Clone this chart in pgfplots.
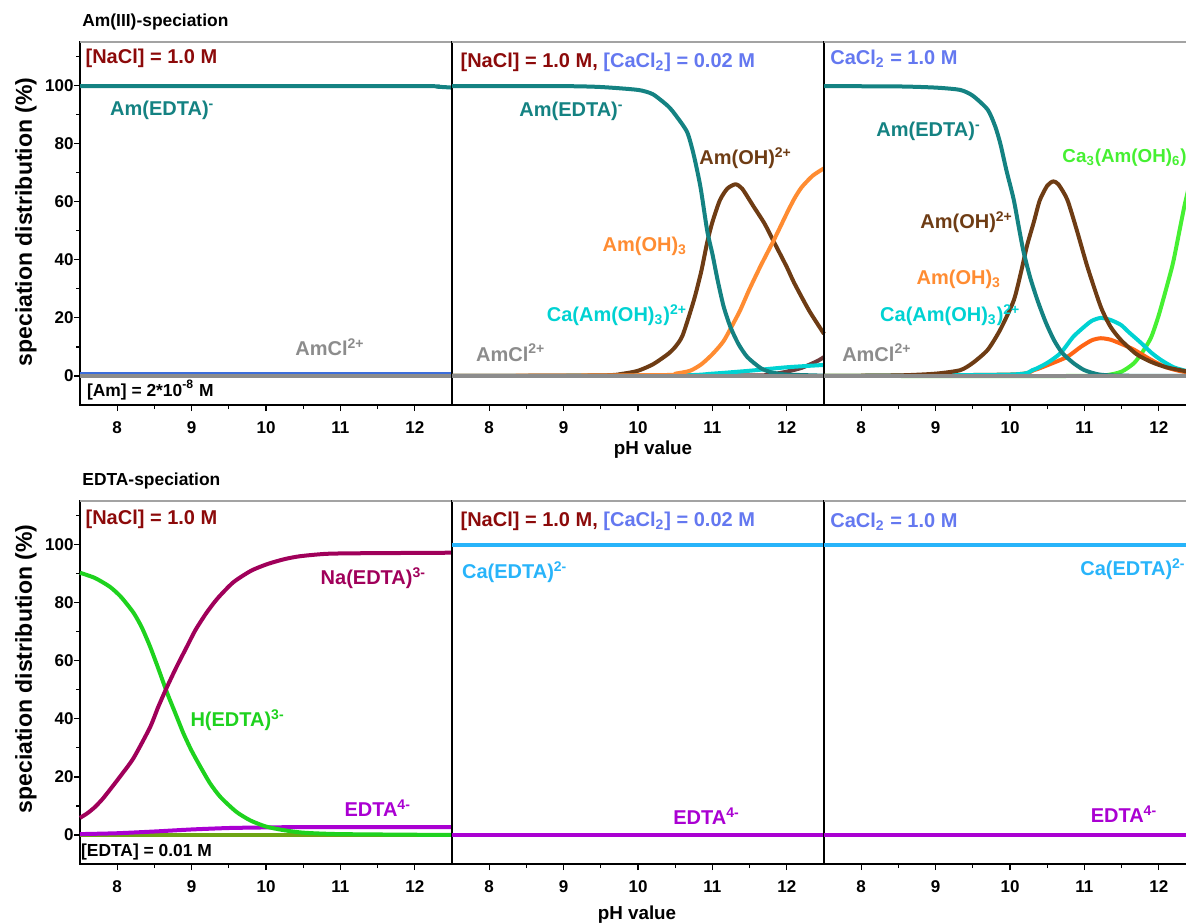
\documentclass[border=0pt]{standalone}
\usepackage{fontspec}
\setmainfont{Liberation Sans}
\usepackage{pgfplots}
\pgfplotsset{compat=1.18}
\definecolor{cteal}{RGB}{20,130,130}
\definecolor{cbrown}{RGB}{110,60,20}
\definecolor{corange}{RGB}{255,140,50}
\definecolor{cored}{RGB}{255,100,20}
\definecolor{ccyan}{RGB}{0,210,210}
\definecolor{cgreen}{RGB}{70,240,50}
\definecolor{cgray}{RGB}{140,140,140}
\definecolor{cdred}{RGB}{140,10,10}
\definecolor{cblue}{RGB}{100,120,240}
\definecolor{cmaroon}{RGB}{160,0,90}
\definecolor{chgreen}{RGB}{30,210,30}
\definecolor{cpurple}{RGB}{170,0,210}
\definecolor{clblue}{RGB}{40,180,250}
\definecolor{colive}{RGB}{110,165,20}
\definecolor{cbline}{RGB}{60,110,220}
\definecolor{cdmb}{RGB}{110,60,60}
\newcommand\anno{\fontsize{10}{12}\selectfont\bfseries}
\newcommand\smallb{\fontsize{8.7}{10}\selectfont\bfseries}
\pgfplotsset{
 panel/.style={
  scale only axis, width=186pt, height=181.5pt,
  xmin=7.5,xmax=12.5,ymin=-10,ymax=115,
  xtick={8,9,10,11,12}, minor xtick={8.5,9.5,10.5,11.5},
  ytick={0,20,...,100}, minor ytick={10,30,50,70,90,110},
  tick align=outside, xtick pos=bottom, ytick pos=left,
  major tick length=3pt, minor tick length=2pt,
  every tick/.style={black, line width=0.6pt},
  axis line style={black, line width=0.8pt},
  ticklabel style={font=\fontsize{8.5}{10}\selectfont\bfseries},
  xticklabel style={yshift=-5pt},
  /pgf/number format/assume math mode=true,
  every axis plot/.append style={line width=2pt, no marks, smooth, tension=0.4, line join=round},
  clip=false,
  nodes={inner sep=0pt},
 },
 noy/.style={ytick=\empty, minor ytick=\empty},
}
\newcommand\topgray{\draw[cgray!80, line width=0.9pt] (rel axis cs:0,1) -- (rel axis cs:1,1);}
\begin{document}
\begin{tikzpicture}
% ---------------- top row ----------------
\begin{axis}[panel, at={(40pt,-21pt)}, anchor=north west]
\addplot[cgray, line width=2.4pt] coordinates {(7.5,0) (12.5,0)};
\addplot[cbline, line width=1pt] coordinates {(7.5,1.0) (12.5,1.0)};
\addplot[cteal] coordinates {(7.5,99.8) (12,99.8) (12.3,99.6) (12.5,99.3)};
\node[anchor=west, text=cdred, font=\anno] at (axis cs:7.57,109.3) {[NaCl] = 1.0 M};
\node[anchor=west, text=cteal, font=\anno] at (axis cs:7.9,91.5) {Am(EDTA)\textsuperscript{-}};
\node[anchor=west, text=cgray, font=\anno] at (axis cs:10.39,10.0) {AmCl\textsuperscript{2+}};
\node[anchor=west, text=black, font=\smallb] at (axis cs:7.59,-4.8) {[Am] = 2*10\textsuperscript{-8} M};
\topgray
\end{axis}
\begin{axis}[panel, noy, at={(226pt,-21pt)}, anchor=north west]
\addplot[cdmb] coordinates {(7.5,0) (11.5,0.2) (11.8,0.6) (12.0,1.5) (12.2,2.8) (12.4,5) (12.5,6.5)};
\addplot[ccyan] coordinates {(7.5,0) (10.5,0.2) (11,0.8) (11.5,1.8) (12,3) (12.5,3.8)};
\addplot[cbrown] coordinates {(7.5,0) (9.5,0.2) (9.8,0.8) (10.0,1.8) (10.2,4) (10.4,7.5) (10.5,10) (10.6,14) (10.75,26) (10.85,36) (10.93,46) (11.0,53) (11.1,60.5) (11.2,64.5) (11.31,66) (11.4,64.5) (11.55,58.5) (11.7,52.5) (11.83,46) (12.0,37.5) (12.1,32) (12.3,22.5) (12.5,14.5)};
\addplot[corange] coordinates {(7.5,0) (10.3,0.3) (10.5,0.8) (10.7,1.8) (10.85,4) (11.0,7.5) (11.15,12) (11.3,19) (11.38,23) (11.5,30) (11.65,38) (11.83,47) (12.0,56) (12.1,61) (12.2,65) (12.35,69) (12.5,71.5)};
\addplot[cteal] coordinates {(7.5,99.8) (9.0,99.8) (9.5,99.5) (10.0,98.5) (10.2,97) (10.4,93) (10.5,90) (10.66,84) (10.75,76) (10.84,65) (10.93,50) (11.0,42) (11.07,33) (11.15,24) (11.24,17) (11.35,11) (11.47,6.5) (11.65,2.7) (11.8,1.2) (12,0.5) (12.5,0.1)};
\addplot[cgray, line width=2.4pt] coordinates {(7.5,0) (12.5,0)};
\node[anchor=west, font=\anno] at (axis cs:7.61,108) {\textcolor{cdred}{[NaCl] = 1.0 M,} \textcolor{cblue}{[CaCl\textsubscript{2}] = 0.02 M}};
\node[anchor=west, text=cteal, font=\anno] at (axis cs:8.4,91.0) {Am(EDTA)\textsuperscript{-}};
\node[anchor=west, text=cbrown, font=\anno] at (axis cs:10.82,75.0) {Am(OH)\textsuperscript{2+}};
\node[anchor=west, text=corange, font=\anno] at (axis cs:9.52,44.5) {Am(OH)\textsubscript{3}};
\node[anchor=west, text=ccyan, font=\anno] at (axis cs:8.77,21.0) {Ca(Am(OH)\textsubscript{3})\textsuperscript{2+}};
\node[anchor=west, text=cgray, font=\anno] at (axis cs:7.82,8.0) {AmCl\textsuperscript{2+}};
\topgray
\end{axis}
\begin{axis}[panel, noy, at={(412pt,-21pt)}, anchor=north west]
\addplot[cgreen] coordinates {(7.5,0) (11.0,0) (11.3,0.3) (11.5,1.5) (11.67,4.5) (11.8,9) (11.9,13.5) (12.0,21) (12.12,32) (12.2,40) (12.34,58) (12.45,70) (12.5,76)};
\addplot[cored] coordinates {(7.5,0) (10.0,0.5) (10.32,2) (10.55,4.2) (10.77,6.6) (10.95,10) (11.1,12.3) (11.22,13) (11.35,12.5) (11.5,11) (11.67,9) (11.9,5.5) (12.1,3) (12.3,1.6) (12.5,1)};
\addplot[ccyan] coordinates {(7.5,0) (10.0,0.5) (10.3,2) (10.5,4.5) (10.68,7.9) (10.85,13.5) (11.0,17) (11.1,19) (11.22,20) (11.35,19.3) (11.49,17.6) (11.6,15) (11.76,11.4) (11.9,8) (12.03,5.5) (12.2,3) (12.4,1.5) (12.5,1)};
\addplot[cbrown] coordinates {(7.5,0) (8.5,0.2) (9.0,0.8) (9.33,2) (9.5,4.5) (9.7,9) (9.87,16) (10.05,26) (10.15,36) (10.23,45) (10.32,53) (10.4,60.5) (10.5,65.5) (10.58,67) (10.65,66) (10.77,60.7) (10.9,50) (11.04,37.6) (11.22,23.8) (11.35,17) (11.49,12.4) (11.7,7.5) (11.9,4.8) (12.1,3) (12.33,1.8) (12.5,1.2)};
\addplot[cteal] coordinates {(7.5,99.8) (8.5,99.7) (9,99.3) (9.33,98.5) (9.5,96.5) (9.7,91.7) (9.8,86) (9.87,80) (9.95,71) (10.05,60.7) (10.12,51) (10.18,43) (10.27,34) (10.37,26) (10.48,18.5) (10.59,12.4) (10.7,8) (10.85,4.5) (11,2) (11.2,0.5) (11.5,0.1) (12.5,0)};
\addplot[cgray, line width=2.4pt] coordinates {(7.5,0) (12.5,0)};
\node[anchor=west, text=cblue, font=\anno] at (axis cs:7.58,109.3) {CaCl\textsubscript{2} = 1.0 M};
\node[anchor=west, text=cteal, font=\anno] at (axis cs:8.2,84.2) {Am(EDTA)\textsuperscript{-}};
\node[anchor=west, text=cgreen, font=\fontsize{9.4}{11}\selectfont\bfseries] at (axis cs:10.7,75.6) {Ca\textsubscript{3}(Am(OH)\textsubscript{6})\textsuperscript{3+}};
\node[anchor=west, text=cbrown, font=\anno] at (axis cs:8.79,53) {Am(OH)\textsuperscript{2+}};
\node[anchor=west, text=corange, font=\anno] at (axis cs:8.74,33.4) {Am(OH)\textsubscript{3}};
\node[anchor=west, text=ccyan, font=\anno] at (axis cs:8.25,21.0) {Ca(Am(OH)\textsubscript{3})\textsuperscript{2+}};
\node[anchor=west, text=cgray, font=\anno] at (axis cs:7.74,8.0) {AmCl\textsuperscript{2+}};
\topgray
\end{axis}
% ---------------- bottom row ----------------
\begin{axis}[panel, at={(40pt,-250.5pt)}, anchor=north west]
\addplot[colive] coordinates {(7.5,0) (12.5,0)};
\addplot[cpurple] coordinates {(7.5,0.3) (8,0.6) (8.5,1.2) (9,1.9) (9.5,2.4) (10,2.6) (10.5,2.7) (12.5,2.7)};
\addplot[chgreen] coordinates {(7.5,90.3) (7.7,88.5) (7.9,85.5) (8.05,82) (8.22,76.5) (8.33,71.5) (8.44,65) (8.55,57.5) (8.67,49) (8.78,42) (8.89,35) (9.0,29) (9.12,23.4) (9.25,17.7) (9.39,13) (9.6,8) (9.79,5) (10.0,2.9) (10.23,1.7) (10.5,0.8) (11,0.3) (12.5,0)};
\addplot[cmaroon] coordinates {(7.5,5.9) (7.6,7.5) (7.7,9.6) (7.8,12.3) (7.9,15.5) (8.05,20.5) (8.22,26.5) (8.44,37) (8.55,44) (8.67,51) (8.8,58) (8.94,65) (9.05,70.5) (9.2,76.5) (9.35,81.5) (9.56,87) (9.8,91) (10.02,93.3) (10.25,95) (10.46,96) (10.8,96.8) (11.2,97) (12.5,97.2)};
\node[anchor=west, text=cdred, font=\anno] at (axis cs:7.57,108.6) {[NaCl] = 1.0 M};
\node[anchor=west, text=cmaroon, font=\anno] at (axis cs:10.73,88.3) {Na(EDTA)\textsuperscript{3-}};
\node[anchor=west, text=chgreen, font=\anno] at (axis cs:8.98,39.5) {H(EDTA)\textsuperscript{3-}};
\node[anchor=west, text=cpurple, font=\anno] at (axis cs:11.05,9.3) {EDTA\textsuperscript{4-}};
\node[anchor=west, text=black, font=\smallb] at (axis cs:7.51,-5.9) {[EDTA] = 0.01 M};
\topgray
\end{axis}
\begin{axis}[panel, noy, at={(226pt,-250.5pt)}, anchor=north west]
\addplot[clblue] coordinates {(7.5,100) (12.5,100)};
\addplot[cpurple] coordinates {(7.5,0) (12.5,0)};
\node[anchor=west, font=\anno] at (axis cs:7.61,108) {\textcolor{cdred}{[NaCl] = 1.0 M,} \textcolor{cblue}{[CaCl\textsubscript{2}] = 0.02 M}};
\node[anchor=west, text=clblue, font=\anno] at (axis cs:7.63,90.4) {Ca(EDTA)\textsuperscript{2-}};
\node[anchor=west, text=cpurple, font=\anno] at (axis cs:10.47,6.5) {EDTA\textsuperscript{4-}};
\topgray
\end{axis}
\begin{axis}[panel, noy, at={(412pt,-250.5pt)}, anchor=north west]
\addplot[clblue] coordinates {(7.5,100) (12.5,100)};
\addplot[cpurple] coordinates {(7.5,0) (12.5,0)};
\node[anchor=west, text=cblue, font=\anno] at (axis cs:7.58,108) {CaCl\textsubscript{2} = 1.0 M};
\node[anchor=west, text=clblue, font=\anno] at (axis cs:10.94,91.4) {Ca(EDTA)\textsuperscript{2-}};
\node[anchor=west, text=cpurple, font=\anno] at (axis cs:11.08,7.2) {EDTA\textsuperscript{4-}};
\topgray
\end{axis}
% ---------------- texts ----------------
\node[anchor=west, inner sep=0pt, font=\smallb] at (41pt,-11pt) {Am(III)-speciation};
\node[anchor=west, inner sep=0pt, font=\smallb] at (41pt,-240.5pt) {EDTA-speciation};
\node[rotate=90, inner sep=0pt, font=\fontsize{11.5}{13}\selectfont\bfseries] at (13pt,-111pt) {speciation distribution (\%)};
\node[rotate=90, inner sep=0pt, font=\fontsize{11.5}{13}\selectfont\bfseries] at (13pt,-334.5pt) {speciation distribution (\%)};
\node[inner sep=0pt, font=\fontsize{9.4}{11}\selectfont\bfseries] at (326.5pt,-225pt) {pH value};
\node[inner sep=0pt, font=\fontsize{9.4}{11}\selectfont\bfseries] at (318.5pt,-457.5pt) {pH value};
\pgfresetboundingbox
\path[use as bounding box] (0pt,0pt) rectangle (593pt,-461.5pt);
\end{tikzpicture}
\end{document}
